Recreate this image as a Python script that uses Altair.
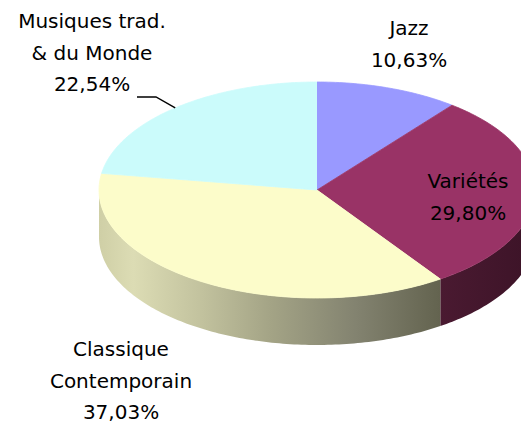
import altair as alt
import pandas as pd
import numpy as np

# ---------------- data ----------------
categories = ["Jazz", "Variétés", "Classique Contemporain", "Musiques trad. & du Monde"]
values = [10.63, 29.80, 37.03, 22.54]
label_names = ["Jazz", "Variétés", "Classique\nContemporain", "Musiques trad.\n& du Monde"]

# ---------------- styles / layout ----------------
top_colors = ["#9999FF", "#993366", "#FCFCCA", "#CBFBFB"]
side_styles = {
    "Jazz": [("#6b6bb3", 0), ("#44447a", 1)],
    "Variétés": [("#4a1a31", 0), ("#3c1327", 1)],
    "Classique Contemporain": [("#cfcfa6", 0), ("#dcdcb4", 0.1), ("#c2c29e", 0.3),
                               ("#a4a486", 0.5), ("#838370", 0.75), ("#63634f", 1)],
    "Musiques trad. & du Monde": [("#a9cfcf", 0), ("#a0c4c4", 1)],
}
W, H = 513, 415                       # plot area (page px = data units)
CX, CY, RX, RY, DEPTH = 317, 190, 218, 108, 47
label_anchor = {                      # centre x, first baseline y
    "Jazz": (409, 35),
    "Variétés": (468, 188),
    "Classique Contemporain": (121, 356),
    "Musiques trad. & du Monde": (92, 28),
}
leader_start = [(137, 97), (156, 97)]
LINE_H = 31.5
FONT = "DejaVu Sans"
FS = 20

total = sum(values)
cum = np.cumsum([0] + values)
starts = cum[:-1] / total * 360
ends = cum[1:] / total * 360


def pt(theta_deg, dy=0.0):
    t = np.radians(theta_deg)
    return CX + RX * np.sin(t), CY - RY * np.cos(t) + dy


top_rows, side_rows, label_rows = [], [], []
for cat, name, v, s, e in zip(categories, label_names, values, starts, ends):
    top_rows.append(dict(cat=cat, i=0, x=CX, y=CY))
    n = max(2, int(np.ceil(e - s)))
    for k, th in enumerate(np.linspace(s, e, n + 1)):
        x, y = pt(th)
        top_rows.append(dict(cat=cat, i=k + 1, x=x, y=y))
    lo, hi = max(s, 90), min(e, 270)
    if hi > lo:
        ths = np.linspace(lo, hi, int(np.ceil(hi - lo)) + 2)
        pts = [pt(t) for t in ths] + [pt(t, DEPTH) for t in ths[::-1]]
        for k, (x, y) in enumerate(pts):
            side_rows.append(dict(cat=cat, i=k, x=x, y=y))
    pct = f"{v:.2f}".replace(".", ",") + "%"
    lx, ly = label_anchor[cat]
    label_rows.append(dict(cat=cat, x=lx, y=ly, text=name + "\n" + pct))

mid_musiques = (starts[3] + ends[3]) / 2
ex, ey = pt(mid_musiques)
leader_rows = [dict(i=k, x=x, y=y) for k, (x, y) in enumerate(leader_start + [(ex, ey)])]

top_df = pd.DataFrame(top_rows)
side_df = pd.DataFrame(side_rows)
label_df = pd.DataFrame(label_rows)
leader_df = pd.DataFrame(leader_rows)

xs = alt.Scale(domain=[8, 8 + W], nice=False, zero=False)
ys = alt.Scale(domain=[8, 8 + H], nice=False, zero=False, reverse=True)
X = alt.X("x:Q", scale=xs, axis=None)
Y = alt.Y("y:Q", scale=ys, axis=None)

layers = []
for cat in categories:
    if cat not in set(side_df["cat"]):
        continue
    grad = alt.Gradient(
        gradient="linear", x1=0, x2=1, y1=0, y2=0,
        stops=[alt.GradientStop(color=c, offset=o) for c, o in side_styles[cat]],
    )
    layers.append(
        alt.Chart(side_df[side_df["cat"] == cat])
        .mark_line(filled=True, fill=grad, strokeWidth=0, interpolate="linear")
        .encode(x=X, y=Y, order="i:Q")
    )

color_scale = alt.Scale(domain=categories, range=top_colors)
layers.append(
    alt.Chart(top_df)
    .mark_line(filled=True, strokeWidth=0.8, interpolate="linear")
    .encode(
        x=X, y=Y, order="i:Q", detail="cat:N",
        color=alt.Color("cat:N", scale=color_scale, legend=None),
        stroke=alt.Stroke("cat:N", scale=color_scale, legend=None),
    )
)
layers.append(
    alt.Chart(leader_df)
    .mark_line(color="black", strokeWidth=1.4, interpolate="linear")
    .encode(x=X, y=Y, order="i:Q")
)
layers.append(
    alt.Chart(label_df)
    .mark_text(font=FONT, fontSize=FS, lineBreak="\n", lineHeight=LINE_H,
               align="center", baseline="alphabetic", color="black")
    .encode(x=X, y=Y, text="text:N")
)

chart = (
    alt.layer(*layers)
    .properties(width=W, height=H, padding=0,
                autosize=alt.AutoSizeParams(type="none"))
    .configure_view(strokeWidth=0)
)

chart.save("out.html", embed_options={"renderer": "svg", "actions": False})
